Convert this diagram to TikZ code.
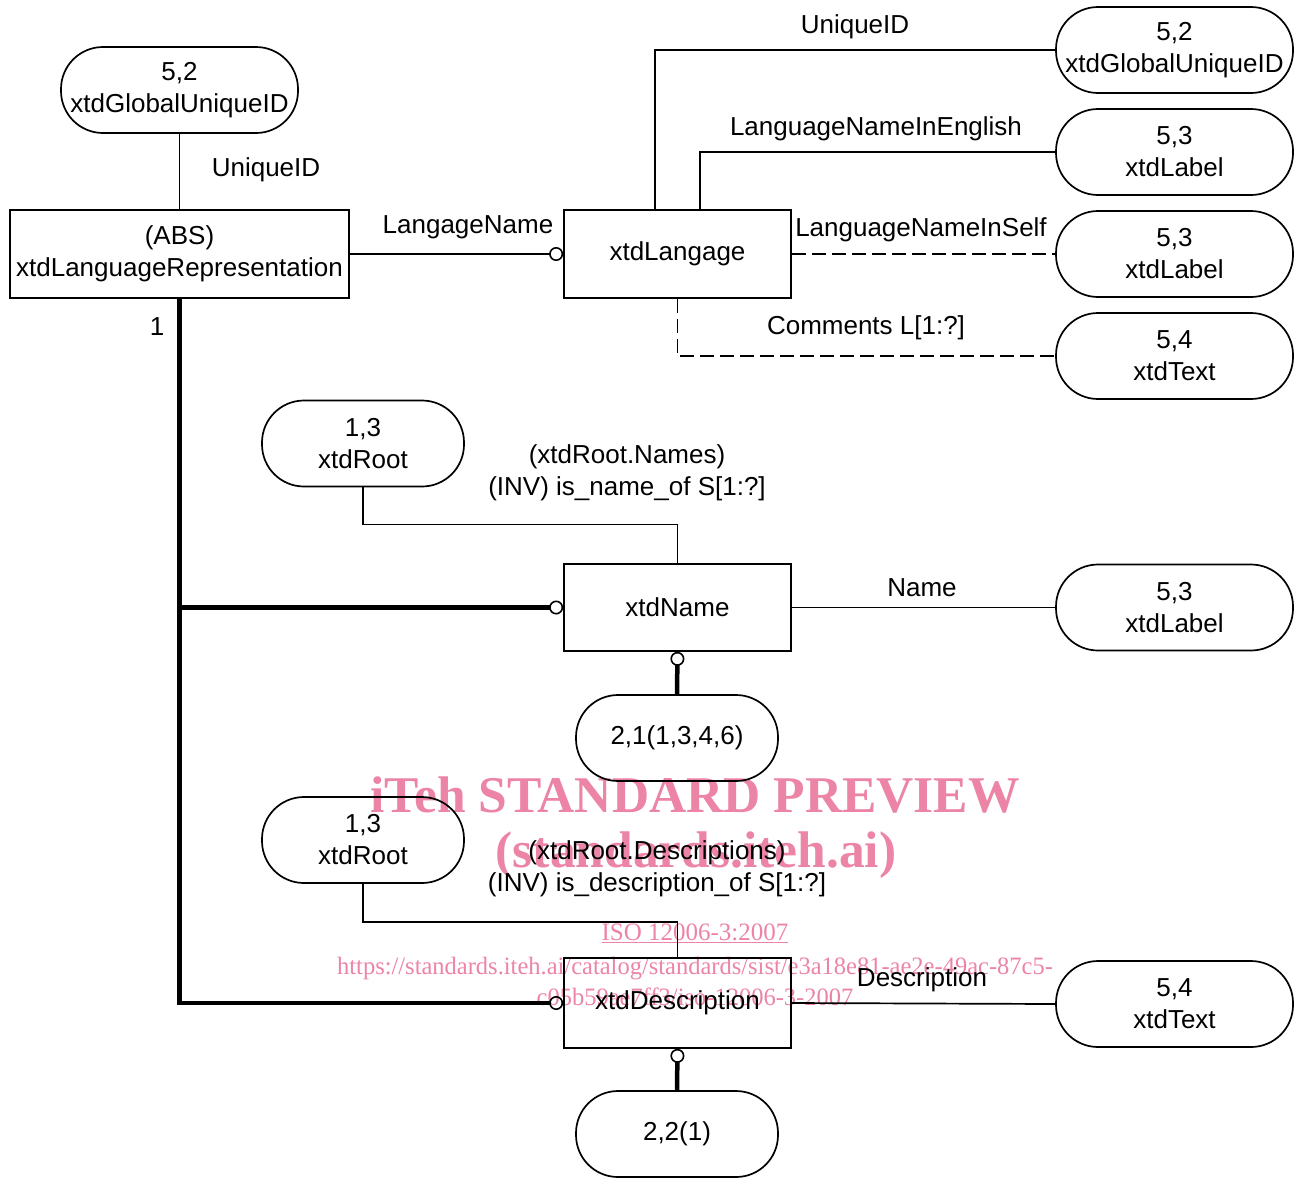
\documentclass[tikz,border=0pt]{standalone}
\usepackage{fontspec}
\setmainfont{Liberation Sans}
\newfontfamily\wmfont{Liberation Serif}
\usetikzlibrary{arrows.meta}
\definecolor{wmpink}{RGB}{236,132,166}
\begin{document}
\begin{tikzpicture}[x=1pt,y=-1pt,
  every node/.style={font=\fontsize{26}{32}\selectfont, inner sep=0pt},
  entity/.style={draw, line width=1.7pt, rectangle, minimum width=227pt, minimum height=88pt, align=center},
  typeref/.style={draw, line width=1.7pt, rectangle, rounded corners=42pt, minimum width=237pt, minimum height=86pt, align=center},
  rootref/.style={typeref, minimum width=202pt},
  link/.style={line width=1.7pt},
  dashlink/.style={line width=1.3pt, dash pattern=on 14pt off 6pt},
  heavy/.style={line width=4.5pt},
  opt/.style={-{Circle[open,length=14pt,line width=1.6pt]}},
  lbl/.style={align=center},
  wm/.style={text=wmpink}
]
\useasboundingbox (0,0) rectangle (1298,1178);

% preview overlay, set behind the drawing
\node[wm, font=\wmfont\bfseries\fontsize{51.5}{56}\selectfont] (w1) at (695,795) {iTeh STANDARD PREVIEW};
\node[wm, font=\wmfont\bfseries\fontsize{51.5}{56}\selectfont] (w2) at (696,855) {(standards.iteh.ai)};
\node[wm, font=\wmfont\fontsize{25}{30}\selectfont] (w3) at (695,933) {\underline{ISO 12006-3:2007}};
\node[wm, font=\wmfont\fontsize{25}{31}\selectfont, align=center, xscale=0.98] (w4) at (695,981) {https://standards.iteh.ai/catalog/standards/sist/e3a18e81-ae2e-49ac-87c5-\\c05b59ae7ff3/iso-12006-3-2007};

% entities
\node[entity, minimum width=339pt] (lr) at (179.5,254) {(ABS)\\xtdLanguageRepresentation};
\node[entity] (lang) at (677.5,254) {xtdLangage};
\node[entity, minimum height=87pt] (name) at (677.5,607.5) {xtdName};
\node[entity, minimum height=90pt] (desc) at (677.5,1003) {xtdDescription};

% referenced types
\node[typeref] (gidl) at (179.5,90) {5,2\\xtdGlobalUniqueID};
\node[typeref] (gidr) at (1174.5,50) {5,2\\xtdGlobalUniqueID};
\node[typeref] (lab1) at (1174.5,152) {5,3\\xtdLabel};
\node[typeref] (lab2) at (1174.5,254) {5,3\\xtdLabel};
\node[typeref] (txt1) at (1174.5,356) {5,4\\xtdText};
\node[typeref] (lab3) at (1174.5,607.5) {5,3\\xtdLabel};
\node[typeref] (txt2) at (1174.5,1004) {5,4\\xtdText};
\node[rootref] (root1) at (363,443.5) {1,3\\xtdRoot};
\node[rootref] (root2) at (363,840) {1,3\\xtdRoot};
\node[rootref] (sel1) at (677,738) {2,1(1,3,4,6)};
\node[rootref] (sel2) at (677,1134) {2,2(1)};

% attributes of xtdLanguageRepresentation
\draw[link] (gidl.south) -- (lr.north);
\node[lbl] (l1) at (266,170) {UniqueID};
\draw[link, opt] (lr.east) -- (lang.west);
\node[lbl] (l2) at (468,227) {LangageName};

% attributes of xtdLangage
\draw[link] ([xshift=-22.5pt]lang.north) |- (gidr.west);
\node[lbl] (l3) at (855,27) {UniqueID};
\draw[link] ([xshift=22.5pt]lang.north) |- (lab1.west);
\node[lbl] (l4) at (876,129) {LanguageNameInEnglish};
\draw[dashlink] (lang.east) -- (lab2.west);
\node[lbl] (l5) at (921,230) {LanguageNameInSelf};
\draw[dashlink] (lang.south) |- (txt1.west);
\node[lbl] (l6) at (866,328) {Comments L[1:?]};

% subtypes
\node[lbl] (one) at (157,327) {1};
\draw[heavy, opt] (lr.south) -- (lr.south |- desc.west) -- (desc.west);
\draw[heavy, opt] (lr.south |- name.west) -- (name.west);

% xtdName
\draw[link] (root1.south) -- ++(0,37) -| (name.north);
\node[lbl] (l7) at (627,473) {(xtdRoot.Names)\\(INV) is\_name\_of S[1:?]};
\draw[link] (name.east) -- (lab3.west);
\node[lbl] (l8) at (922,588) {Name};
\draw[heavy, opt] (sel1.north) -- (name.south);

% xtdDescription
\draw[link] (root2.south) -- ++(0,38) -| (desc.north);
\node[lbl] (l9) at (657,869) {(xtdRoot.Descriptions)\\(INV) is\_description\_of S[1:?]};
\draw[link] (desc.east) -- (txt2.west);
\node[lbl] (l10) at (922,980) {Description};
\draw[heavy, opt] (sel2.north) -- (desc.south);
\end{tikzpicture}
\end{document}
